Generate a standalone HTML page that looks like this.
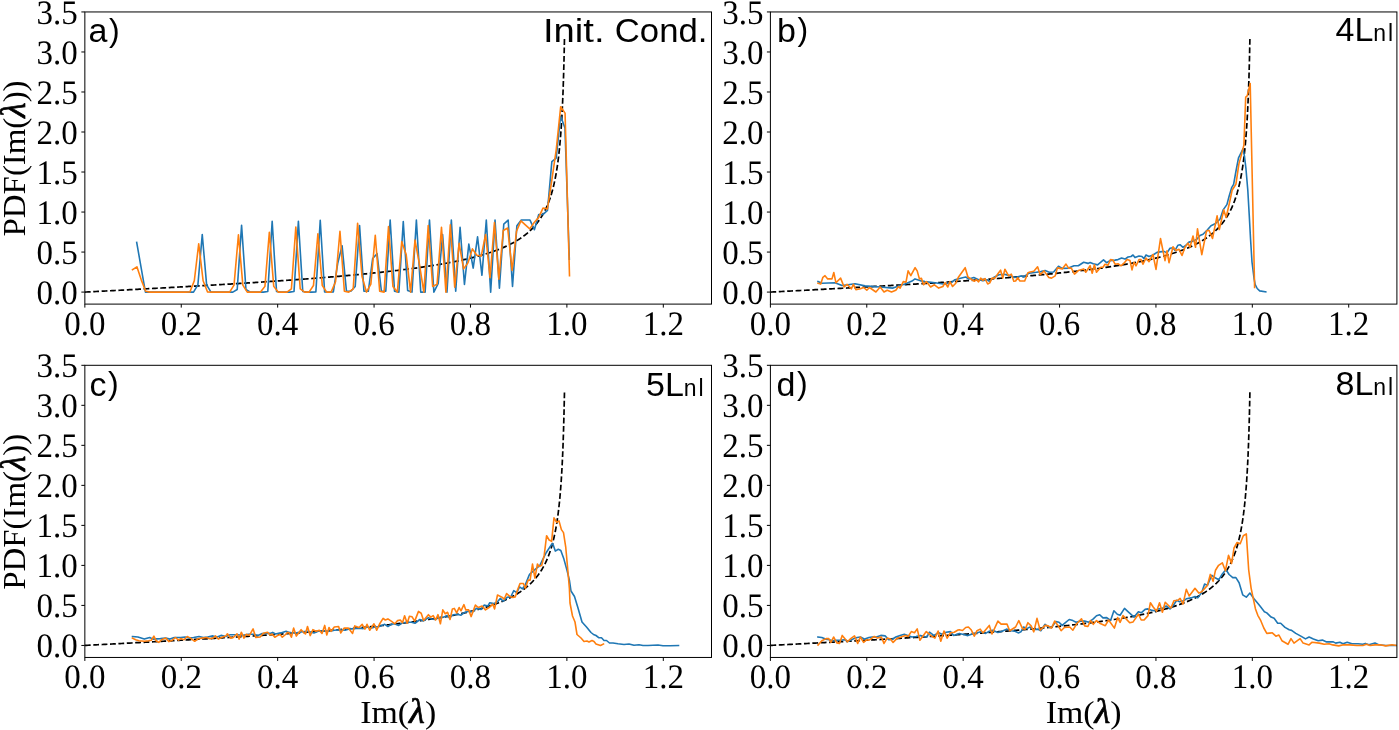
<!DOCTYPE html>
<html><head><meta charset="utf-8"><style>
html,body{margin:0;padding:0;background:#fff;overflow:hidden}
svg{display:block;will-change:transform}
.tk{text-rendering:geometricPrecision;font-family:"Liberation Serif",serif;font-size:33px;fill:#000}
.lab{font-family:"Liberation Serif",serif;font-size:32.5px;fill:#000}
.pl{font-family:"Liberation Sans",sans-serif;font-size:34px;fill:#000}
</style></head><body>
<svg width="1399" height="730" viewBox="0 0 1399 730">
<rect width="1399" height="730" fill="#fff"/>
<clipPath id="clipa"><rect x="84.85" y="11.95" width="626.65" height="292.15"/></clipPath>
<path d="M84.85,292.09 L86.45,292.01 L88.05,291.92 L89.65,291.84 L91.25,291.76 L92.84,291.67 L94.44,291.59 L96.04,291.5 L97.64,291.42 L99.24,291.33 L100.84,291.25 L102.44,291.16 L104.04,291.08 L105.63,290.99 L107.23,290.91 L108.83,290.82 L110.43,290.74 L112.03,290.66 L113.63,290.57 L115.23,290.49 L116.83,290.4 L118.42,290.31 L120.02,290.23 L121.62,290.14 L123.22,290.06 L124.82,289.97 L126.42,289.89 L128.02,289.8 L129.62,289.72 L131.21,289.63 L132.81,289.55 L134.41,289.46 L136.01,289.37 L137.61,289.29 L139.21,289.2 L140.81,289.12 L142.41,289.03 L144,288.94 L145.6,288.86 L147.2,288.77 L148.8,288.68 L150.4,288.6 L152,288.51 L153.6,288.42 L155.2,288.34 L156.79,288.25 L158.39,288.16 L159.99,288.07 L161.59,287.99 L163.19,287.9 L164.79,287.81 L166.39,287.72 L167.99,287.63 L169.58,287.54 L171.18,287.46 L172.78,287.37 L174.38,287.28 L175.98,287.19 L177.58,287.1 L179.18,287.01 L180.78,286.92 L182.37,286.83 L183.97,286.74 L185.57,286.65 L187.17,286.56 L188.77,286.47 L190.37,286.38 L191.97,286.29 L193.57,286.2 L195.16,286.1 L196.76,286.01 L198.36,285.92 L199.96,285.83 L201.56,285.74 L203.16,285.64 L204.76,285.55 L206.36,285.46 L207.95,285.36 L209.55,285.27 L211.15,285.18 L212.75,285.08 L214.35,284.99 L215.95,284.89 L217.55,284.8 L219.15,284.7 L220.74,284.61 L222.34,284.51 L223.94,284.42 L225.54,284.32 L227.14,284.22 L228.74,284.13 L230.34,284.03 L231.94,283.93 L233.53,283.83 L235.13,283.73 L236.73,283.64 L238.33,283.54 L239.93,283.44 L241.53,283.34 L243.13,283.24 L244.73,283.14 L246.32,283.04 L247.92,282.93 L249.52,282.83 L251.12,282.73 L252.72,282.63 L254.32,282.53 L255.92,282.42 L257.52,282.32 L259.11,282.22 L260.71,282.11 L262.31,282.01 L263.91,281.9 L265.51,281.79 L267.11,281.69 L268.71,281.58 L270.31,281.47 L271.91,281.37 L273.5,281.26 L275.1,281.15 L276.7,281.04 L278.3,280.93 L279.9,280.82 L281.5,280.71 L283.1,280.6 L284.7,280.49 L286.29,280.37 L287.89,280.26 L289.49,280.15 L291.09,280.03 L292.69,279.92 L294.29,279.8 L295.89,279.69 L297.49,279.57 L299.08,279.45 L300.68,279.34 L302.28,279.22 L303.88,279.1 L305.48,278.98 L307.08,278.86 L308.68,278.74 L310.28,278.61 L311.87,278.49 L313.47,278.37 L315.07,278.24 L316.67,278.12 L318.27,277.99 L319.87,277.87 L321.47,277.74 L323.07,277.61 L324.66,277.48 L326.26,277.35 L327.86,277.22 L329.46,277.09 L331.06,276.96 L332.66,276.82 L334.26,276.69 L335.86,276.55 L337.45,276.42 L339.05,276.28 L340.65,276.14 L342.25,276 L343.85,275.86 L345.45,275.72 L347.05,275.58 L348.65,275.44 L350.24,275.29 L351.84,275.14 L353.44,275 L355.04,274.85 L356.64,274.7 L358.24,274.55 L359.84,274.4 L361.44,274.24 L363.03,274.09 L364.63,273.93 L366.23,273.78 L367.83,273.62 L369.43,273.46 L371.03,273.3 L372.63,273.13 L374.23,272.97 L375.82,272.8 L377.42,272.64 L379.02,272.47 L380.62,272.3 L382.22,272.12 L383.82,271.95 L385.42,271.77 L387.02,271.6 L388.61,271.42 L390.21,271.23 L391.81,271.05 L393.41,270.87 L395.01,270.68 L396.61,270.49 L398.21,270.3 L399.81,270.1 L401.4,269.91 L403,269.71 L404.6,269.51 L406.2,269.31 L407.8,269.1 L409.4,268.89 L411,268.68 L412.6,268.47 L414.19,268.25 L415.79,268.04 L417.39,267.81 L418.99,267.59 L420.59,267.36 L422.19,267.13 L423.79,266.9 L425.39,266.66 L426.98,266.42 L428.58,266.18 L430.18,265.93 L431.78,265.68 L433.38,265.43 L434.98,265.17 L436.58,264.91 L438.18,264.64 L439.77,264.37 L441.37,264.1 L442.97,263.82 L444.57,263.53 L446.17,263.24 L447.77,262.95 L449.37,262.65 L450.97,262.35 L452.57,262.04 L454.16,261.72 L455.76,261.4 L457.36,261.07 L458.96,260.74 L460.56,260.4 L462.16,260.05 L463.76,259.7 L465.36,259.33 L466.95,258.97 L468.55,258.59 L470.15,258.2 L471.75,257.81 L473.35,257.41 L474.95,257 L476.55,256.57 L478.15,256.14 L479.74,255.7 L481.34,255.25 L482.94,254.78 L484.54,254.3 L486.14,253.81 L487.74,253.31 L489.34,252.79 L490.94,252.26 L492.53,251.71 L494.13,251.15 L495.73,250.56 L497.33,249.96 L498.93,249.34 L500.53,248.7 L502.13,248.04 L503.73,247.36 L505.32,246.65 L506.92,245.91 L508.52,245.15 L510.12,244.35 L511.72,243.53 L513.32,242.67 L514.92,241.77 L516.52,240.83 L518.11,239.85 L518.68,239.49 L519.14,239.19 L519.6,238.9 L519.71,238.82 L520.06,238.59 L520.52,238.29 L520.97,237.98 L521.31,237.74 L521.43,237.66 L521.89,237.34 L522.35,237.02 L522.81,236.69 L522.91,236.61 L523.26,236.35 L523.72,236.01 L524.18,235.67 L524.51,235.42 L524.64,235.32 L525.1,234.96 L525.55,234.6 L526.01,234.23 L526.11,234.16 L526.47,233.86 L526.93,233.48 L527.39,233.1 L527.71,232.82 L527.84,232.71 L528.3,232.31 L528.76,231.9 L529.22,231.49 L529.31,231.41 L529.68,231.07 L530.13,230.64 L530.59,230.21 L530.9,229.91 L531.05,229.77 L531.51,229.32 L531.96,228.86 L532.42,228.39 L532.5,228.3 L532.88,227.91 L533.34,227.42 L533.8,226.93 L534.1,226.59 L534.25,226.42 L534.71,225.9 L535.17,225.38 L535.63,224.84 L535.7,224.75 L536.09,224.29 L536.54,223.73 L537,223.15 L537.3,222.77 L537.46,222.56 L537.92,221.96 L538.38,221.35 L538.83,220.72 L538.9,220.63 L539.29,220.07 L539.75,219.41 L540.21,218.73 L540.5,218.3 L540.67,218.04 L541.12,217.33 L541.58,216.6 L542.04,215.85 L542.1,215.75 L542.5,215.08 L542.96,214.28 L543.41,213.47 L543.69,212.96 L543.87,212.63 L544.33,211.77 L544.79,210.88 L545.24,209.96 L545.29,209.87 L545.7,209.02 L546.16,208.04 L546.62,207.03 L546.89,206.42 L547.08,205.99 L547.53,204.91 L547.99,203.8 L548.45,202.64 L548.49,202.54 L548.91,201.44 L549.37,200.2 L549.82,198.9 L550.09,198.13 L550.28,197.56 L550.74,196.15 L551.2,194.69 L551.66,193.17 L551.69,193.06 L552.11,191.57 L552.57,189.9 L553.03,188.15 L553.29,187.13 L553.49,186.31 L553.95,184.38 L554.4,182.34 L554.86,180.18 L554.89,180.07 L555.32,177.91 L555.78,175.49 L556.24,172.93 L556.48,171.46 L556.69,170.19 L557.15,167.27 L557.61,164.13 L558.07,160.75 L558.08,160.63 L558.53,157.11 L558.98,153.15 L559.44,148.84 L559.68,146.41 L559.9,144.11 L560.36,138.9 L560.81,133.12 L561.27,126.64 L561.28,126.52 L561.73,119.33 L562.19,110.98 L562.65,101.32 L562.88,95.78 L563.1,89.96 L563.56,76.34 L564.02,59.58 L564.48,38.27" fill="none" stroke="#000" stroke-width="1.7" stroke-dasharray="5.8 2.6" clip-path="url(#clipa)"/>
<path d="M136.7,242.47 L141.07,267.28 L145.44,292.09 L149.81,292.09 L154.18,292.09 L158.55,292.09 L162.92,292.09 L167.29,292.09 L171.66,292.09 L176.03,292.09 L180.4,292.09 L184.77,292.09 L189.14,292.09 L193.51,292.09 L197.88,284.87 L202.25,234.5 L206.62,284.87 L210.99,292.09 L215.36,292.09 L219.73,292.09 L224.1,292.09 L228.47,292.09 L232.84,292.09 L237.21,289.47 L241.58,225.3 L245.95,289.47 L250.32,292.09 L254.69,292.09 L259.06,292.09 L263.43,292.09 L267.8,291.47 L272.17,221.31 L276.54,291.47 L280.91,292.09 L285.28,292.09 L289.65,292.09 L294.02,291.47 L298.39,221.31 L302.76,291.47 L307.13,292.09 L311.5,292.09 L315.87,291.92 L320.24,220.42 L324.61,291.91 L328.98,292.09 L333.35,291.91 L337.72,263.28 L342.09,245.67 L346.46,291.29 L350.83,291.29 L355.2,286.49 L359.57,225.66 L363.94,291.29 L368.31,291.29 L372.68,258.48 L377.05,253.67 L381.42,291.29 L385.79,291.29 L390.16,220.06 L394.53,291.29 L398.9,292.09 L403.27,221.66 L407.64,290.49 L412.01,292.09 L416.38,220.06 L420.75,292.09 L425.12,292.09 L429.49,220.06 L433.86,292.09 L438.23,283.29 L442.6,234.46 L446.97,292.09 L451.34,220.06 L455.71,291.29 L460.08,227.26 L464.45,284.49 L468.82,244.07 L473.19,268.08 L477.56,236.87 L481.93,275.29 L486.3,220.06 L490.67,292.09 L495.04,220.06 L499.41,288.09 L503.78,224.06 L508.15,220.06 L512.52,286.49 L516.89,225.66 L521.26,220.06 L525.63,220.06 L530,220.06 L534.37,229.66 L538.74,214.45 L543.11,214.45 L547.48,210.45 L551.85,161.63 L556.22,158.03 L560.59,116 L564.96,128.01 L569.33,259.28" fill="none" stroke="#1f77b4" stroke-width="1.6" stroke-linejoin="round" stroke-linecap="square" clip-path="url(#clipa)"/>
<path d="M132.5,269.68 L136.91,266.8 L141.33,280.09 L145.74,291.29 L150.16,292.09 L154.57,292.09 L158.98,292.09 L163.4,292.09 L167.81,292.09 L172.22,292.09 L176.64,292.09 L181.06,292.09 L185.47,292.09 L189.88,291.99 L194.3,280.73 L198.71,243.81 L203.12,280.73 L207.54,291.99 L211.95,292.09 L216.36,292.09 L220.78,292.09 L225.2,292.09 L229.61,292.09 L234.02,285.07 L238.44,234.9 L242.85,285.07 L247.26,292.09 L251.68,292.09 L256.09,292.09 L260.5,292.09 L264.92,286.37 L269.34,232.3 L273.75,286.37 L278.16,292.09 L282.58,292.09 L286.99,292.09 L291.4,288.97 L295.82,227.1 L300.23,288.97 L304.65,292.09 L309.06,292.09 L313.47,285.57 L317.89,233.9 L322.3,285.57 L326.72,292.09 L331.13,292.09 L335.54,281.69 L339.96,231.26 L344.37,291.29 L348.79,292.09 L353.2,288.89 L357.61,223.26 L362.03,276.49 L366.44,292.09 L370.85,284.09 L375.27,235.26 L379.68,291.29 L384.09,292.09 L388.51,226.46 L392.93,286.49 L397.34,292.09 L401.75,241.67 L406.17,254.47 L410.58,292.09 L414.99,240.07 L419.41,264.08 L423.82,292.09 L428.23,225.66 L432.65,286.49 L437.07,284.09 L441.48,227.26 L445.89,292.09 L450.31,224.86 L454.72,287.29 L459.13,243.27 L463.55,268.88 L467.96,262.88 L472.38,248.87 L476.79,255.27 L481.21,256.08 L485.62,234.46 L490.03,277.69 L494.45,222.46 L498.86,279.29 L503.27,230.46 L507.69,228.06 L512.1,270.48 L516.52,231.26 L520.93,220.86 L525.35,224.86 L529.76,228.86 L534.17,222.46 L538.59,217.66 L543,208.05 L547.41,208.85 L551.83,180.04 L556.24,149.62 L560.66,106.8 L565.07,113.12 L569.49,275.61" fill="none" stroke="#ff7f0e" stroke-width="1.6" stroke-linejoin="round" stroke-linecap="square" clip-path="url(#clipa)"/>
<rect x="84.85" y="11.95" width="626.65" height="292.15" fill="none" stroke="#000" stroke-width="1.0"/>
<line x1="81.35" y1="292.09" x2="84.85" y2="292.09" stroke="#000" stroke-width="1.0"/>
<text transform="translate(77.85,303.99) scale(1.0,1.04)" class="tk" text-anchor="end">0.0</text>
<line x1="81.35" y1="252.07" x2="84.85" y2="252.07" stroke="#000" stroke-width="1.0"/>
<text transform="translate(77.85,263.97) scale(1.0,1.04)" class="tk" text-anchor="end">0.5</text>
<line x1="81.35" y1="212.05" x2="84.85" y2="212.05" stroke="#000" stroke-width="1.0"/>
<text transform="translate(77.85,223.95) scale(1.0,1.04)" class="tk" text-anchor="end">1.0</text>
<line x1="81.35" y1="172.03" x2="84.85" y2="172.03" stroke="#000" stroke-width="1.0"/>
<text transform="translate(77.85,183.93) scale(1.0,1.04)" class="tk" text-anchor="end">1.5</text>
<line x1="81.35" y1="132.01" x2="84.85" y2="132.01" stroke="#000" stroke-width="1.0"/>
<text transform="translate(77.85,143.91) scale(1.0,1.04)" class="tk" text-anchor="end">2.0</text>
<line x1="81.35" y1="91.99" x2="84.85" y2="91.99" stroke="#000" stroke-width="1.0"/>
<text transform="translate(77.85,103.89) scale(1.0,1.04)" class="tk" text-anchor="end">2.5</text>
<line x1="81.35" y1="51.97" x2="84.85" y2="51.97" stroke="#000" stroke-width="1.0"/>
<text transform="translate(77.85,63.87) scale(1.0,1.04)" class="tk" text-anchor="end">3.0</text>
<line x1="81.35" y1="11.95" x2="84.85" y2="11.95" stroke="#000" stroke-width="1.0"/>
<text transform="translate(77.85,23.85) scale(1.0,1.04)" class="tk" text-anchor="end">3.5</text>
<line x1="84.85" y1="304.1" x2="84.85" y2="307.6" stroke="#000" stroke-width="1.0"/>
<text transform="translate(84.85,334.8) scale(1.0,1.04)" class="tk" text-anchor="middle">0.0</text>
<line x1="181.26" y1="304.1" x2="181.26" y2="307.6" stroke="#000" stroke-width="1.0"/>
<text transform="translate(181.26,334.8) scale(1.0,1.04)" class="tk" text-anchor="middle">0.2</text>
<line x1="277.67" y1="304.1" x2="277.67" y2="307.6" stroke="#000" stroke-width="1.0"/>
<text transform="translate(277.67,334.8) scale(1.0,1.04)" class="tk" text-anchor="middle">0.4</text>
<line x1="374.07" y1="304.1" x2="374.07" y2="307.6" stroke="#000" stroke-width="1.0"/>
<text transform="translate(374.07,334.8) scale(1.0,1.04)" class="tk" text-anchor="middle">0.6</text>
<line x1="470.48" y1="304.1" x2="470.48" y2="307.6" stroke="#000" stroke-width="1.0"/>
<text transform="translate(470.48,334.8) scale(1.0,1.04)" class="tk" text-anchor="middle">0.8</text>
<line x1="566.89" y1="304.1" x2="566.89" y2="307.6" stroke="#000" stroke-width="1.0"/>
<text transform="translate(566.89,334.8) scale(1.0,1.04)" class="tk" text-anchor="middle">1.0</text>
<line x1="663.3" y1="304.1" x2="663.3" y2="307.6" stroke="#000" stroke-width="1.0"/>
<text transform="translate(663.3,334.8) scale(1.0,1.04)" class="tk" text-anchor="middle">1.2</text>
<clipPath id="clipb"><rect x="770.4" y="11.95" width="626.5" height="292.15"/></clipPath>
<path d="M770.4,292.09 L772,292.01 L773.6,291.92 L775.2,291.84 L776.79,291.76 L778.39,291.67 L779.99,291.59 L781.59,291.5 L783.19,291.42 L784.79,291.33 L786.38,291.25 L787.98,291.16 L789.58,291.08 L791.18,290.99 L792.78,290.91 L794.38,290.82 L795.97,290.74 L797.57,290.66 L799.17,290.57 L800.77,290.49 L802.37,290.4 L803.97,290.31 L805.56,290.23 L807.16,290.14 L808.76,290.06 L810.36,289.97 L811.96,289.89 L813.56,289.8 L815.15,289.72 L816.75,289.63 L818.35,289.55 L819.95,289.46 L821.55,289.37 L823.15,289.29 L824.74,289.2 L826.34,289.12 L827.94,289.03 L829.54,288.94 L831.14,288.86 L832.74,288.77 L834.34,288.68 L835.93,288.6 L837.53,288.51 L839.13,288.42 L840.73,288.34 L842.33,288.25 L843.93,288.16 L845.52,288.07 L847.12,287.99 L848.72,287.9 L850.32,287.81 L851.92,287.72 L853.52,287.63 L855.11,287.54 L856.71,287.46 L858.31,287.37 L859.91,287.28 L861.51,287.19 L863.11,287.1 L864.7,287.01 L866.3,286.92 L867.9,286.83 L869.5,286.74 L871.1,286.65 L872.7,286.56 L874.29,286.47 L875.89,286.38 L877.49,286.29 L879.09,286.2 L880.69,286.1 L882.29,286.01 L883.88,285.92 L885.48,285.83 L887.08,285.74 L888.68,285.64 L890.28,285.55 L891.88,285.46 L893.48,285.36 L895.07,285.27 L896.67,285.18 L898.27,285.08 L899.87,284.99 L901.47,284.89 L903.07,284.8 L904.66,284.7 L906.26,284.61 L907.86,284.51 L909.46,284.42 L911.06,284.32 L912.66,284.22 L914.25,284.13 L915.85,284.03 L917.45,283.93 L919.05,283.83 L920.65,283.73 L922.25,283.64 L923.84,283.54 L925.44,283.44 L927.04,283.34 L928.64,283.24 L930.24,283.14 L931.84,283.04 L933.43,282.93 L935.03,282.83 L936.63,282.73 L938.23,282.63 L939.83,282.53 L941.43,282.42 L943.02,282.32 L944.62,282.22 L946.22,282.11 L947.82,282.01 L949.42,281.9 L951.02,281.79 L952.62,281.69 L954.21,281.58 L955.81,281.47 L957.41,281.37 L959.01,281.26 L960.61,281.15 L962.21,281.04 L963.8,280.93 L965.4,280.82 L967,280.71 L968.6,280.6 L970.2,280.49 L971.8,280.37 L973.39,280.26 L974.99,280.15 L976.59,280.03 L978.19,279.92 L979.79,279.8 L981.39,279.69 L982.98,279.57 L984.58,279.45 L986.18,279.34 L987.78,279.22 L989.38,279.1 L990.98,278.98 L992.57,278.86 L994.17,278.74 L995.77,278.61 L997.37,278.49 L998.97,278.37 L1000.57,278.24 L1002.16,278.12 L1003.76,277.99 L1005.36,277.87 L1006.96,277.74 L1008.56,277.61 L1010.16,277.48 L1011.76,277.35 L1013.35,277.22 L1014.95,277.09 L1016.55,276.96 L1018.15,276.82 L1019.75,276.69 L1021.35,276.55 L1022.94,276.42 L1024.54,276.28 L1026.14,276.14 L1027.74,276 L1029.34,275.86 L1030.94,275.72 L1032.53,275.58 L1034.13,275.44 L1035.73,275.29 L1037.33,275.14 L1038.93,275 L1040.53,274.85 L1042.12,274.7 L1043.72,274.55 L1045.32,274.4 L1046.92,274.24 L1048.52,274.09 L1050.12,273.93 L1051.71,273.78 L1053.31,273.62 L1054.91,273.46 L1056.51,273.3 L1058.11,273.13 L1059.71,272.97 L1061.3,272.8 L1062.9,272.64 L1064.5,272.47 L1066.1,272.3 L1067.7,272.12 L1069.3,271.95 L1070.9,271.77 L1072.49,271.6 L1074.09,271.42 L1075.69,271.23 L1077.29,271.05 L1078.89,270.87 L1080.49,270.68 L1082.08,270.49 L1083.68,270.3 L1085.28,270.1 L1086.88,269.91 L1088.48,269.71 L1090.08,269.51 L1091.67,269.31 L1093.27,269.1 L1094.87,268.89 L1096.47,268.68 L1098.07,268.47 L1099.67,268.25 L1101.26,268.04 L1102.86,267.81 L1104.46,267.59 L1106.06,267.36 L1107.66,267.13 L1109.26,266.9 L1110.85,266.66 L1112.45,266.42 L1114.05,266.18 L1115.65,265.93 L1117.25,265.68 L1118.85,265.43 L1120.44,265.17 L1122.04,264.91 L1123.64,264.64 L1125.24,264.37 L1126.84,264.1 L1128.44,263.82 L1130.04,263.53 L1131.63,263.24 L1133.23,262.95 L1134.83,262.65 L1136.43,262.35 L1138.03,262.04 L1139.63,261.72 L1141.22,261.4 L1142.82,261.07 L1144.42,260.74 L1146.02,260.4 L1147.62,260.05 L1149.22,259.7 L1150.81,259.33 L1152.41,258.97 L1154.01,258.59 L1155.61,258.2 L1157.21,257.81 L1158.81,257.41 L1160.4,257 L1162,256.57 L1163.6,256.14 L1165.2,255.7 L1166.8,255.25 L1168.4,254.78 L1169.99,254.3 L1171.59,253.81 L1173.19,253.31 L1174.79,252.79 L1176.39,252.26 L1177.99,251.71 L1179.58,251.15 L1181.18,250.56 L1182.78,249.96 L1184.38,249.34 L1185.98,248.7 L1187.58,248.04 L1189.18,247.36 L1190.77,246.65 L1192.37,245.91 L1193.97,245.15 L1195.57,244.35 L1197.17,243.53 L1198.77,242.67 L1200.36,241.77 L1201.96,240.83 L1203.56,239.85 L1204.13,239.49 L1204.59,239.19 L1205.05,238.9 L1205.16,238.82 L1205.5,238.59 L1205.96,238.29 L1206.42,237.98 L1206.76,237.74 L1206.88,237.66 L1207.34,237.34 L1207.79,237.02 L1208.25,236.69 L1208.36,236.61 L1208.71,236.35 L1209.17,236.01 L1209.62,235.67 L1209.95,235.42 L1210.08,235.32 L1210.54,234.96 L1211,234.6 L1211.46,234.23 L1211.55,234.16 L1211.91,233.86 L1212.37,233.48 L1212.83,233.1 L1213.15,232.82 L1213.29,232.71 L1213.75,232.31 L1214.2,231.9 L1214.66,231.49 L1214.75,231.41 L1215.12,231.07 L1215.58,230.64 L1216.03,230.21 L1216.35,229.91 L1216.49,229.77 L1216.95,229.32 L1217.41,228.86 L1217.87,228.39 L1217.95,228.3 L1218.32,227.91 L1218.78,227.42 L1219.24,226.93 L1219.54,226.59 L1219.7,226.42 L1220.15,225.9 L1220.61,225.38 L1221.07,224.84 L1221.14,224.75 L1221.53,224.29 L1221.99,223.73 L1222.44,223.15 L1222.74,222.77 L1222.9,222.56 L1223.36,221.96 L1223.82,221.35 L1224.28,220.72 L1224.34,220.63 L1224.73,220.07 L1225.19,219.41 L1225.65,218.73 L1225.94,218.3 L1226.11,218.04 L1226.56,217.33 L1227.02,216.6 L1227.48,215.85 L1227.54,215.75 L1227.94,215.08 L1228.4,214.28 L1228.85,213.47 L1229.13,212.96 L1229.31,212.63 L1229.77,211.77 L1230.23,210.88 L1230.68,209.96 L1230.73,209.87 L1231.14,209.02 L1231.6,208.04 L1232.06,207.03 L1232.33,206.42 L1232.52,205.99 L1232.97,204.91 L1233.43,203.8 L1233.89,202.64 L1233.93,202.54 L1234.35,201.44 L1234.81,200.2 L1235.26,198.9 L1235.53,198.13 L1235.72,197.56 L1236.18,196.15 L1236.64,194.69 L1237.09,193.17 L1237.13,193.06 L1237.55,191.57 L1238.01,189.9 L1238.47,188.15 L1238.72,187.13 L1238.93,186.31 L1239.38,184.38 L1239.84,182.34 L1240.3,180.18 L1240.32,180.07 L1240.76,177.91 L1241.21,175.49 L1241.67,172.93 L1241.92,171.46 L1242.13,170.19 L1242.59,167.27 L1243.05,164.13 L1243.5,160.75 L1243.52,160.63 L1243.96,157.11 L1244.42,153.15 L1244.88,148.84 L1245.12,146.41 L1245.34,144.11 L1245.79,138.9 L1246.25,133.12 L1246.71,126.64 L1246.72,126.52 L1247.17,119.33 L1247.62,110.98 L1248.08,101.32 L1248.32,95.78 L1248.54,89.96 L1249,76.34 L1249.46,59.58 L1249.91,38.27" fill="none" stroke="#000" stroke-width="1.7" stroke-dasharray="5.8 2.6" clip-path="url(#clipb)"/>
<path d="M818,281.6 L822,283.2 L835,282.7 L842,285.5 L848,284.8 L855,283.7 L865,285.9 L880,287 L893,288.1 L900,285.4 L905,284.1 L912,281.1 L915,278.9 L920,280.6 L925,281.6 L935,282.7 L945,284.3 L952,282 L955,279.7 L962.5,277.7 L965.7,277 L968.9,279.1 L973.8,277.5 L978.6,279.7 L982.9,280.7 L987.2,279.7 L989.3,281.3 L993.6,277.5 L999,274.8 L1004.3,274.3 L1008.6,275.4 L1015,277.5 L1021.5,275.9 L1023.6,277 L1029,273.2 L1036.5,272.2 L1040.8,271.6 L1045.1,270.6 L1049.3,272.2 L1053.6,272 L1058.5,266.3 L1062.2,268.4 L1068.6,268.1 L1074,265.7 L1078.3,265.7 L1083.7,262.3 L1088,263.4 L1090.1,262.5 L1093.3,263.8 L1097.6,264.9 L1103.5,259.8 L1106.6,262.7 L1110,260.6 L1115,260.1 L1118,259.6 L1121.6,258.1 L1125,259.1 L1128,257 L1131,256.5 L1133,255 L1135,257.6 L1139,256 L1142,256.5 L1144,258.6 L1146,255 L1149,256.5 L1153,255 L1157,252.4 L1160,251.9 L1164,251.4 L1167,252.9 L1170,248.3 L1173,247.8 L1175,250.4 L1178,245.2 L1180,244.7 L1183,247.3 L1186,245.2 L1189,242.1 L1193,241.1 L1197,239.1 L1200,235.5 L1203,234.3 L1207,230.2 L1211,225.7 L1215.6,223.5 L1220.1,219 L1223.1,209.9 L1226.9,204.6 L1229.1,196.3 L1231.8,187.3 L1233.6,184.3 L1235.9,171.5 L1238.5,157.9 L1240.4,154.1 L1243,148.8 L1244.5,156.4 L1246,169.2 L1247.8,190.3 L1249.2,214.4 L1250.6,240 L1252,262 L1254,278 L1255.1,284.4 L1257.2,288.5 L1259.7,290.9 L1265.8,291.9" fill="none" stroke="#1f77b4" stroke-width="1.6" stroke-linejoin="round" stroke-linecap="square" clip-path="url(#clipb)"/>
<path d="M818,283.2 L820.7,284.1 L822.9,277.3 L825,275.7 L827.7,278.9 L832,278.9 L833.8,272.5 L835.9,282.7 L840.6,278.1 L844.1,287 L847,284.3 L851.3,288.8 L853.4,284.3 L855.9,289.7 L860.4,288.8 L863.6,287.5 L866.8,290.2 L869.5,287.5 L875.9,292 L880.2,287 L884,292 L887.2,290.2 L891.5,292 L895.8,290.2 L898.5,286.5 L900.1,288.1 L903.3,281.6 L906,282.2 L908.1,270.9 L910.8,275.7 L915.1,267.7 L917.2,270.9 L919.4,278.9 L921.5,278.4 L923.6,284.8 L926.3,281.6 L930.6,287 L934.4,284.8 L938.7,288.1 L942.9,286.5 L945.1,282.7 L947.8,287 L949.9,281.6 L952.6,286.5 L955.8,283.2 L958.2,277.5 L965.2,267.7 L967.9,277 L971.1,279.1 L974.3,281.3 L976.4,279.7 L978.6,281.8 L980.7,278.1 L982.9,280.5 L985,278.6 L987.7,284 L989.8,282.9 L992,278.1 L994.7,278.4 L997.9,273.8 L1000.6,270.2 L1002.7,278.1 L1004.9,269.2 L1008.6,275.9 L1011.3,274.1 L1013.8,281.3 L1015.6,281 L1017.7,277.7 L1019.9,281 L1024.7,281 L1027.9,272.7 L1030.1,272 L1033.8,271.3 L1037.6,266.8 L1040.2,274.8 L1044,270.9 L1048.8,277.5 L1051.5,278.1 L1055.2,275.9 L1057.4,267.9 L1062.2,268.9 L1066,264.1 L1068.6,268.1 L1071.3,268.1 L1074.5,274.1 L1078.3,270.6 L1083.7,268.9 L1085.8,272.2 L1090.1,265.7 L1092.2,273.2 L1094.4,264.7 L1096.5,272.2 L1100.8,267.3 L1103,267.3 L1105,264.2 L1108,265.3 L1110.5,259.6 L1113,260.1 L1115,264.2 L1118,263.7 L1121,265.8 L1124,263.2 L1127,259.6 L1130,260.6 L1132,269.9 L1134,262.2 L1136,265.8 L1139,259.6 L1141,259.6 L1143,264.2 L1146,258.1 L1149,261.7 L1153,254.5 L1156,269.4 L1160.5,238.5 L1165,260.6 L1167,250.9 L1169,262.7 L1173,246.8 L1176,250.4 L1179,249.3 L1182,255.5 L1185,247.3 L1188,243.2 L1190,247.3 L1193,236 L1195.5,247.3 L1197.5,228.8 L1201.8,254.7 L1206.5,231 L1209,230.3 L1212.5,238.5 L1217.1,215.9 L1219.3,229.5 L1223.8,209.9 L1226.1,217.4 L1229,205 L1232.1,190.3 L1235.9,184.3 L1238.9,163.9 L1241.2,155.6 L1243.9,145.1 L1245.7,97.1 L1247.2,95.9 L1250.2,83.5 L1254.6,287.5" fill="none" stroke="#ff7f0e" stroke-width="1.6" stroke-linejoin="round" stroke-linecap="square" clip-path="url(#clipb)"/>
<rect x="770.4" y="11.95" width="626.5" height="292.15" fill="none" stroke="#000" stroke-width="1.0"/>
<line x1="766.9" y1="292.09" x2="770.4" y2="292.09" stroke="#000" stroke-width="1.0"/>
<text transform="translate(763.4,303.99) scale(1.0,1.04)" class="tk" text-anchor="end">0.0</text>
<line x1="766.9" y1="252.07" x2="770.4" y2="252.07" stroke="#000" stroke-width="1.0"/>
<text transform="translate(763.4,263.97) scale(1.0,1.04)" class="tk" text-anchor="end">0.5</text>
<line x1="766.9" y1="212.05" x2="770.4" y2="212.05" stroke="#000" stroke-width="1.0"/>
<text transform="translate(763.4,223.95) scale(1.0,1.04)" class="tk" text-anchor="end">1.0</text>
<line x1="766.9" y1="172.03" x2="770.4" y2="172.03" stroke="#000" stroke-width="1.0"/>
<text transform="translate(763.4,183.93) scale(1.0,1.04)" class="tk" text-anchor="end">1.5</text>
<line x1="766.9" y1="132.01" x2="770.4" y2="132.01" stroke="#000" stroke-width="1.0"/>
<text transform="translate(763.4,143.91) scale(1.0,1.04)" class="tk" text-anchor="end">2.0</text>
<line x1="766.9" y1="91.99" x2="770.4" y2="91.99" stroke="#000" stroke-width="1.0"/>
<text transform="translate(763.4,103.89) scale(1.0,1.04)" class="tk" text-anchor="end">2.5</text>
<line x1="766.9" y1="51.97" x2="770.4" y2="51.97" stroke="#000" stroke-width="1.0"/>
<text transform="translate(763.4,63.87) scale(1.0,1.04)" class="tk" text-anchor="end">3.0</text>
<line x1="766.9" y1="11.95" x2="770.4" y2="11.95" stroke="#000" stroke-width="1.0"/>
<text transform="translate(763.4,23.85) scale(1.0,1.04)" class="tk" text-anchor="end">3.5</text>
<line x1="770.4" y1="304.1" x2="770.4" y2="307.6" stroke="#000" stroke-width="1.0"/>
<text transform="translate(770.4,334.8) scale(1.0,1.04)" class="tk" text-anchor="middle">0.0</text>
<line x1="866.78" y1="304.1" x2="866.78" y2="307.6" stroke="#000" stroke-width="1.0"/>
<text transform="translate(866.78,334.8) scale(1.0,1.04)" class="tk" text-anchor="middle">0.2</text>
<line x1="963.17" y1="304.1" x2="963.17" y2="307.6" stroke="#000" stroke-width="1.0"/>
<text transform="translate(963.17,334.8) scale(1.0,1.04)" class="tk" text-anchor="middle">0.4</text>
<line x1="1059.55" y1="304.1" x2="1059.55" y2="307.6" stroke="#000" stroke-width="1.0"/>
<text transform="translate(1059.55,334.8) scale(1.0,1.04)" class="tk" text-anchor="middle">0.6</text>
<line x1="1155.94" y1="304.1" x2="1155.94" y2="307.6" stroke="#000" stroke-width="1.0"/>
<text transform="translate(1155.94,334.8) scale(1.0,1.04)" class="tk" text-anchor="middle">0.8</text>
<line x1="1252.32" y1="304.1" x2="1252.32" y2="307.6" stroke="#000" stroke-width="1.0"/>
<text transform="translate(1252.32,334.8) scale(1.0,1.04)" class="tk" text-anchor="middle">1.0</text>
<line x1="1348.71" y1="304.1" x2="1348.71" y2="307.6" stroke="#000" stroke-width="1.0"/>
<text transform="translate(1348.71,334.8) scale(1.0,1.04)" class="tk" text-anchor="middle">1.2</text>
<clipPath id="clipc"><rect x="84.85" y="365.3" width="626.65" height="292.15"/></clipPath>
<path d="M84.85,645.44 L86.45,645.36 L88.05,645.27 L89.65,645.19 L91.25,645.11 L92.84,645.02 L94.44,644.94 L96.04,644.85 L97.64,644.77 L99.24,644.68 L100.84,644.6 L102.44,644.51 L104.04,644.43 L105.63,644.34 L107.23,644.26 L108.83,644.17 L110.43,644.09 L112.03,644.01 L113.63,643.92 L115.23,643.84 L116.83,643.75 L118.42,643.66 L120.02,643.58 L121.62,643.49 L123.22,643.41 L124.82,643.32 L126.42,643.24 L128.02,643.15 L129.62,643.07 L131.21,642.98 L132.81,642.9 L134.41,642.81 L136.01,642.72 L137.61,642.64 L139.21,642.55 L140.81,642.47 L142.41,642.38 L144,642.29 L145.6,642.21 L147.2,642.12 L148.8,642.03 L150.4,641.95 L152,641.86 L153.6,641.77 L155.2,641.69 L156.79,641.6 L158.39,641.51 L159.99,641.42 L161.59,641.34 L163.19,641.25 L164.79,641.16 L166.39,641.07 L167.99,640.98 L169.58,640.89 L171.18,640.81 L172.78,640.72 L174.38,640.63 L175.98,640.54 L177.58,640.45 L179.18,640.36 L180.78,640.27 L182.37,640.18 L183.97,640.09 L185.57,640 L187.17,639.91 L188.77,639.82 L190.37,639.73 L191.97,639.64 L193.57,639.55 L195.16,639.45 L196.76,639.36 L198.36,639.27 L199.96,639.18 L201.56,639.09 L203.16,638.99 L204.76,638.9 L206.36,638.81 L207.95,638.71 L209.55,638.62 L211.15,638.53 L212.75,638.43 L214.35,638.34 L215.95,638.24 L217.55,638.15 L219.15,638.05 L220.74,637.96 L222.34,637.86 L223.94,637.77 L225.54,637.67 L227.14,637.57 L228.74,637.48 L230.34,637.38 L231.94,637.28 L233.53,637.18 L235.13,637.08 L236.73,636.99 L238.33,636.89 L239.93,636.79 L241.53,636.69 L243.13,636.59 L244.73,636.49 L246.32,636.39 L247.92,636.28 L249.52,636.18 L251.12,636.08 L252.72,635.98 L254.32,635.88 L255.92,635.77 L257.52,635.67 L259.11,635.57 L260.71,635.46 L262.31,635.36 L263.91,635.25 L265.51,635.14 L267.11,635.04 L268.71,634.93 L270.31,634.82 L271.91,634.72 L273.5,634.61 L275.1,634.5 L276.7,634.39 L278.3,634.28 L279.9,634.17 L281.5,634.06 L283.1,633.95 L284.7,633.84 L286.29,633.72 L287.89,633.61 L289.49,633.5 L291.09,633.38 L292.69,633.27 L294.29,633.15 L295.89,633.04 L297.49,632.92 L299.08,632.8 L300.68,632.69 L302.28,632.57 L303.88,632.45 L305.48,632.33 L307.08,632.21 L308.68,632.09 L310.28,631.96 L311.87,631.84 L313.47,631.72 L315.07,631.59 L316.67,631.47 L318.27,631.34 L319.87,631.22 L321.47,631.09 L323.07,630.96 L324.66,630.83 L326.26,630.7 L327.86,630.57 L329.46,630.44 L331.06,630.31 L332.66,630.17 L334.26,630.04 L335.86,629.9 L337.45,629.77 L339.05,629.63 L340.65,629.49 L342.25,629.35 L343.85,629.21 L345.45,629.07 L347.05,628.93 L348.65,628.79 L350.24,628.64 L351.84,628.49 L353.44,628.35 L355.04,628.2 L356.64,628.05 L358.24,627.9 L359.84,627.75 L361.44,627.59 L363.03,627.44 L364.63,627.28 L366.23,627.13 L367.83,626.97 L369.43,626.81 L371.03,626.65 L372.63,626.48 L374.23,626.32 L375.82,626.15 L377.42,625.99 L379.02,625.82 L380.62,625.65 L382.22,625.47 L383.82,625.3 L385.42,625.12 L387.02,624.95 L388.61,624.77 L390.21,624.58 L391.81,624.4 L393.41,624.22 L395.01,624.03 L396.61,623.84 L398.21,623.65 L399.81,623.45 L401.4,623.26 L403,623.06 L404.6,622.86 L406.2,622.66 L407.8,622.45 L409.4,622.24 L411,622.03 L412.6,621.82 L414.19,621.6 L415.79,621.39 L417.39,621.16 L418.99,620.94 L420.59,620.71 L422.19,620.48 L423.79,620.25 L425.39,620.01 L426.98,619.77 L428.58,619.53 L430.18,619.28 L431.78,619.03 L433.38,618.78 L434.98,618.52 L436.58,618.26 L438.18,617.99 L439.77,617.72 L441.37,617.45 L442.97,617.17 L444.57,616.88 L446.17,616.59 L447.77,616.3 L449.37,616 L450.97,615.7 L452.57,615.39 L454.16,615.07 L455.76,614.75 L457.36,614.42 L458.96,614.09 L460.56,613.75 L462.16,613.4 L463.76,613.05 L465.36,612.68 L466.95,612.32 L468.55,611.94 L470.15,611.55 L471.75,611.16 L473.35,610.76 L474.95,610.35 L476.55,609.92 L478.15,609.49 L479.74,609.05 L481.34,608.6 L482.94,608.13 L484.54,607.65 L486.14,607.16 L487.74,606.66 L489.34,606.14 L490.94,605.61 L492.53,605.06 L494.13,604.5 L495.73,603.91 L497.33,603.31 L498.93,602.69 L500.53,602.05 L502.13,601.39 L503.73,600.71 L505.32,600 L506.92,599.26 L508.52,598.5 L510.12,597.7 L511.72,596.88 L513.32,596.02 L514.92,595.12 L516.52,594.18 L518.11,593.2 L518.68,592.84 L519.14,592.54 L519.6,592.25 L519.71,592.17 L520.06,591.94 L520.52,591.64 L520.97,591.33 L521.31,591.09 L521.43,591.01 L521.89,590.69 L522.35,590.37 L522.81,590.04 L522.91,589.96 L523.26,589.7 L523.72,589.36 L524.18,589.02 L524.51,588.77 L524.64,588.67 L525.1,588.31 L525.55,587.95 L526.01,587.58 L526.11,587.51 L526.47,587.21 L526.93,586.83 L527.39,586.45 L527.71,586.17 L527.84,586.06 L528.3,585.66 L528.76,585.25 L529.22,584.84 L529.31,584.76 L529.68,584.42 L530.13,583.99 L530.59,583.56 L530.9,583.26 L531.05,583.12 L531.51,582.67 L531.96,582.21 L532.42,581.74 L532.5,581.65 L532.88,581.26 L533.34,580.77 L533.8,580.28 L534.1,579.94 L534.25,579.77 L534.71,579.25 L535.17,578.73 L535.63,578.19 L535.7,578.1 L536.09,577.64 L536.54,577.08 L537,576.5 L537.3,576.12 L537.46,575.91 L537.92,575.31 L538.38,574.7 L538.83,574.07 L538.9,573.98 L539.29,573.42 L539.75,572.76 L540.21,572.08 L540.5,571.65 L540.67,571.39 L541.12,570.68 L541.58,569.95 L542.04,569.2 L542.1,569.1 L542.5,568.43 L542.96,567.63 L543.41,566.82 L543.69,566.31 L543.87,565.98 L544.33,565.12 L544.79,564.23 L545.24,563.31 L545.29,563.22 L545.7,562.37 L546.16,561.39 L546.62,560.38 L546.89,559.77 L547.08,559.34 L547.53,558.26 L547.99,557.15 L548.45,555.99 L548.49,555.89 L548.91,554.79 L549.37,553.55 L549.82,552.25 L550.09,551.48 L550.28,550.91 L550.74,549.5 L551.2,548.04 L551.66,546.52 L551.69,546.41 L552.11,544.92 L552.57,543.25 L553.03,541.5 L553.29,540.48 L553.49,539.66 L553.95,537.73 L554.4,535.69 L554.86,533.53 L554.89,533.42 L555.32,531.26 L555.78,528.84 L556.24,526.28 L556.48,524.81 L556.69,523.54 L557.15,520.62 L557.61,517.48 L558.07,514.1 L558.08,513.98 L558.53,510.46 L558.98,506.5 L559.44,502.19 L559.68,499.76 L559.9,497.46 L560.36,492.25 L560.81,486.47 L561.27,479.99 L561.28,479.87 L561.73,472.68 L562.19,464.33 L562.65,454.67 L562.88,449.13 L563.1,443.31 L563.56,429.69 L564.02,412.93 L564.48,391.62" fill="none" stroke="#000" stroke-width="1.7" stroke-dasharray="5.8 2.6" clip-path="url(#clipc)"/>
<path d="M132.5,636.5 L137.9,637 L144.3,639.1 L149.7,637.5 L152.9,639.1 L160.4,638.6 L165.7,638.1 L170,639.1 L174.3,637.5 L180.8,637.5 L185,637 L189.3,638.1 L193.6,637.5 L199,636.5 L203.3,637.5 L207.6,637 L212.9,635.9 L217.2,637 L221,635.4 L225.8,636.5 L230.1,634.8 L237.6,634.8 L242.9,635.4 L248.3,634.3 L253.7,634.3 L258,635.4 L262.2,633.5 L267.6,633.2 L270,633.4 L272.7,632.4 L275.4,634 L280.7,632.9 L286.1,631.3 L289.3,632.4 L291.4,632.9 L296.8,632.9 L302.2,631.8 L307.5,631.3 L314,632.9 L318.2,631.3 L323.6,630.7 L330,631.3 L334.3,630.2 L339.7,629.7 L345.1,630.2 L349.3,629.1 L353.6,628.6 L359,628.1 L363.3,628.6 L367.6,627 L370.8,628.1 L375.1,627 L379.4,626.5 L384.7,624.3 L387.9,626.5 L391.2,624.3 L394.4,623.8 L398.7,625.4 L402.9,622.7 L408.3,622.2 L411.5,622.2 L415,623.3 L419.8,619.5 L423.6,620.9 L428.4,617.6 L431.3,619 L435.1,619.5 L439,617.6 L443.8,617.1 L446.7,615.6 L449.5,618 L453.4,614.7 L457.2,614.2 L461,615.2 L463.9,612.8 L468.7,611.3 L472.6,611.8 L476.4,608.4 L481.2,609.4 L484.1,605.1 L487.9,606 L489.8,602.7 L493.7,603.6 L497.5,601.7 L500.4,598.4 L503.2,601.2 L507.1,597.4 L510.9,596.5 L513.8,590.7 L516.7,592.6 L519.6,586.9 L522.4,588.8 L525.3,584.9 L529.1,575.3 L530,573.9 L534.9,569.6 L539.9,565.3 L542.3,560.4 L546,553 L551.6,544.4 L552.8,543.7 L555.3,551.1 L558.3,549.3 L560.8,550.5 L563.9,559.1 L567,570.2 L569.4,580.1 L571,591 L574.5,596.5 L578,608 L582,622 L586.5,627 L591,632.5 L593.5,634.5 L596,635.5 L599,637.8 L601.5,637.8 L604,640.5 L606.5,640.5 L609.5,643 L613,643 L618,643.8 L624,644.5 L629,644 L634,645.2 L639,644.8 L643,645.5 L648,645.5 L653,645.2 L658,645 L663,645.7 L670,645.7 L678.5,645.5" fill="none" stroke="#1f77b4" stroke-width="1.6" stroke-linejoin="round" stroke-linecap="square" clip-path="url(#clipc)"/>
<path d="M132.5,638.1 L135.7,639.7 L138.9,640.7 L144.3,641.3 L148.6,640.7 L151.3,640.2 L153.9,636.2 L156.1,640.7 L158.8,642.4 L161.5,639.7 L165.7,638.1 L169,641.6 L172.2,640.2 L175.4,637.5 L178.6,640.2 L180.8,638.6 L184,639.7 L187.2,636.5 L190.4,638.1 L194.7,641.3 L197.9,638.8 L202.2,638.1 L206.5,637.5 L209.7,638.8 L212.9,638.1 L215.6,635.9 L218.3,639.1 L221.5,637.5 L225.8,635.9 L227.4,633.8 L230.6,638.1 L233.3,637.5 L237,633.8 L239.2,639.1 L241.3,632.2 L244,638.1 L246.1,634.3 L249.4,635.4 L253.1,628.9 L255.8,637.5 L260.1,637 L263.3,633.2 L267.6,632.2 L270,635 L272.1,634 L274.8,637.2 L277.5,635.6 L280.2,634.5 L282.3,637.2 L285,635 L287.7,632.4 L289.3,632.9 L291.4,637.2 L293.6,628.1 L296.3,636.1 L301.1,629.7 L305.4,634 L307.5,626.5 L310.2,635.6 L312.9,629.7 L316.1,631.3 L319.3,630.2 L322,633.4 L324.7,625.4 L326.8,635 L329,627.5 L331.1,631.3 L334.3,627 L338.6,626.5 L340.8,632.9 L344,628.1 L348.3,628.1 L352.6,633.4 L354.7,625.9 L359,627.5 L362.2,624.3 L364.9,629.1 L367,624.3 L369.7,630.2 L374,623.8 L376.7,630.2 L379.4,624.3 L383.1,618.4 L385.3,620 L387.9,618.9 L391.2,621.1 L394.9,623.8 L397.6,620.6 L400.3,620 L402.5,622.7 L404.6,615.7 L407.2,623.2 L409.4,616.3 L412.1,616.8 L414.7,621.1 L418.5,611.4 L418.8,611.8 L421.2,613.2 L423.6,620.4 L428.4,614.7 L430.8,617.1 L433.2,615.6 L435.6,620 L438,614.7 L440.4,623.8 L442.8,609.9 L445.2,613.7 L447.6,612.3 L450,619.5 L452.4,608.9 L454.3,608.4 L456.7,612.8 L459.1,607.5 L461,610.8 L463.9,604.6 L465.8,609.9 L468.7,609.9 L471.1,616.6 L475.4,605.1 L478.3,607.5 L482.1,606 L485.5,609.9 L489.8,607 L492.7,604.1 L494.6,608.9 L497.5,595 L502.3,597.4 L504.2,599.3 L506.6,593.6 L510,596.5 L512.8,597.4 L515.2,596.9 L517.6,589.7 L520,583.5 L523.4,583.5 L525.3,588.3 L528.2,580.1 L530.1,580.1 L532.5,564.1 L534.9,578.2 L537.4,564.1 L539.2,566.5 L541.7,565.3 L544.2,555.4 L546.6,535.7 L549.1,540 L551.6,541.3 L554,517.9 L556.5,522.2 L559,520.9 L561.4,529.6 L563.5,532.6 L565.7,546.8 L567.6,567.8 L569.4,588.7 L570,603 L572.5,616 L575,622 L577,634.5 L581,638 L584,641.5 L587,641 L589,642 L592,640.5 L594,641.5 L596,644 L600.5,645.5 L603.5,644" fill="none" stroke="#ff7f0e" stroke-width="1.6" stroke-linejoin="round" stroke-linecap="square" clip-path="url(#clipc)"/>
<rect x="84.85" y="365.3" width="626.65" height="292.15" fill="none" stroke="#000" stroke-width="1.0"/>
<line x1="81.35" y1="645.44" x2="84.85" y2="645.44" stroke="#000" stroke-width="1.0"/>
<text transform="translate(77.85,657.34) scale(1.0,1.04)" class="tk" text-anchor="end">0.0</text>
<line x1="81.35" y1="605.42" x2="84.85" y2="605.42" stroke="#000" stroke-width="1.0"/>
<text transform="translate(77.85,617.32) scale(1.0,1.04)" class="tk" text-anchor="end">0.5</text>
<line x1="81.35" y1="565.4" x2="84.85" y2="565.4" stroke="#000" stroke-width="1.0"/>
<text transform="translate(77.85,577.3) scale(1.0,1.04)" class="tk" text-anchor="end">1.0</text>
<line x1="81.35" y1="525.38" x2="84.85" y2="525.38" stroke="#000" stroke-width="1.0"/>
<text transform="translate(77.85,537.28) scale(1.0,1.04)" class="tk" text-anchor="end">1.5</text>
<line x1="81.35" y1="485.36" x2="84.85" y2="485.36" stroke="#000" stroke-width="1.0"/>
<text transform="translate(77.85,497.26) scale(1.0,1.04)" class="tk" text-anchor="end">2.0</text>
<line x1="81.35" y1="445.34" x2="84.85" y2="445.34" stroke="#000" stroke-width="1.0"/>
<text transform="translate(77.85,457.24) scale(1.0,1.04)" class="tk" text-anchor="end">2.5</text>
<line x1="81.35" y1="405.32" x2="84.85" y2="405.32" stroke="#000" stroke-width="1.0"/>
<text transform="translate(77.85,417.22) scale(1.0,1.04)" class="tk" text-anchor="end">3.0</text>
<line x1="81.35" y1="365.3" x2="84.85" y2="365.3" stroke="#000" stroke-width="1.0"/>
<text transform="translate(77.85,377.2) scale(1.0,1.04)" class="tk" text-anchor="end">3.5</text>
<line x1="84.85" y1="657.45" x2="84.85" y2="660.95" stroke="#000" stroke-width="1.0"/>
<text transform="translate(84.85,688.15) scale(1.0,1.04)" class="tk" text-anchor="middle">0.0</text>
<line x1="181.26" y1="657.45" x2="181.26" y2="660.95" stroke="#000" stroke-width="1.0"/>
<text transform="translate(181.26,688.15) scale(1.0,1.04)" class="tk" text-anchor="middle">0.2</text>
<line x1="277.67" y1="657.45" x2="277.67" y2="660.95" stroke="#000" stroke-width="1.0"/>
<text transform="translate(277.67,688.15) scale(1.0,1.04)" class="tk" text-anchor="middle">0.4</text>
<line x1="374.07" y1="657.45" x2="374.07" y2="660.95" stroke="#000" stroke-width="1.0"/>
<text transform="translate(374.07,688.15) scale(1.0,1.04)" class="tk" text-anchor="middle">0.6</text>
<line x1="470.48" y1="657.45" x2="470.48" y2="660.95" stroke="#000" stroke-width="1.0"/>
<text transform="translate(470.48,688.15) scale(1.0,1.04)" class="tk" text-anchor="middle">0.8</text>
<line x1="566.89" y1="657.45" x2="566.89" y2="660.95" stroke="#000" stroke-width="1.0"/>
<text transform="translate(566.89,688.15) scale(1.0,1.04)" class="tk" text-anchor="middle">1.0</text>
<line x1="663.3" y1="657.45" x2="663.3" y2="660.95" stroke="#000" stroke-width="1.0"/>
<text transform="translate(663.3,688.15) scale(1.0,1.04)" class="tk" text-anchor="middle">1.2</text>
<clipPath id="clipd"><rect x="770.4" y="365.3" width="626.5" height="292.15"/></clipPath>
<path d="M770.4,645.44 L772,645.36 L773.6,645.27 L775.2,645.19 L776.79,645.11 L778.39,645.02 L779.99,644.94 L781.59,644.85 L783.19,644.77 L784.79,644.68 L786.38,644.6 L787.98,644.51 L789.58,644.43 L791.18,644.34 L792.78,644.26 L794.38,644.17 L795.97,644.09 L797.57,644.01 L799.17,643.92 L800.77,643.84 L802.37,643.75 L803.97,643.66 L805.56,643.58 L807.16,643.49 L808.76,643.41 L810.36,643.32 L811.96,643.24 L813.56,643.15 L815.15,643.07 L816.75,642.98 L818.35,642.9 L819.95,642.81 L821.55,642.72 L823.15,642.64 L824.74,642.55 L826.34,642.47 L827.94,642.38 L829.54,642.29 L831.14,642.21 L832.74,642.12 L834.34,642.03 L835.93,641.95 L837.53,641.86 L839.13,641.77 L840.73,641.69 L842.33,641.6 L843.93,641.51 L845.52,641.42 L847.12,641.34 L848.72,641.25 L850.32,641.16 L851.92,641.07 L853.52,640.98 L855.11,640.89 L856.71,640.81 L858.31,640.72 L859.91,640.63 L861.51,640.54 L863.11,640.45 L864.7,640.36 L866.3,640.27 L867.9,640.18 L869.5,640.09 L871.1,640 L872.7,639.91 L874.29,639.82 L875.89,639.73 L877.49,639.64 L879.09,639.55 L880.69,639.45 L882.29,639.36 L883.88,639.27 L885.48,639.18 L887.08,639.09 L888.68,638.99 L890.28,638.9 L891.88,638.81 L893.48,638.71 L895.07,638.62 L896.67,638.53 L898.27,638.43 L899.87,638.34 L901.47,638.24 L903.07,638.15 L904.66,638.05 L906.26,637.96 L907.86,637.86 L909.46,637.77 L911.06,637.67 L912.66,637.57 L914.25,637.48 L915.85,637.38 L917.45,637.28 L919.05,637.18 L920.65,637.08 L922.25,636.99 L923.84,636.89 L925.44,636.79 L927.04,636.69 L928.64,636.59 L930.24,636.49 L931.84,636.39 L933.43,636.28 L935.03,636.18 L936.63,636.08 L938.23,635.98 L939.83,635.88 L941.43,635.77 L943.02,635.67 L944.62,635.57 L946.22,635.46 L947.82,635.36 L949.42,635.25 L951.02,635.14 L952.62,635.04 L954.21,634.93 L955.81,634.82 L957.41,634.72 L959.01,634.61 L960.61,634.5 L962.21,634.39 L963.8,634.28 L965.4,634.17 L967,634.06 L968.6,633.95 L970.2,633.84 L971.8,633.72 L973.39,633.61 L974.99,633.5 L976.59,633.38 L978.19,633.27 L979.79,633.15 L981.39,633.04 L982.98,632.92 L984.58,632.8 L986.18,632.69 L987.78,632.57 L989.38,632.45 L990.98,632.33 L992.57,632.21 L994.17,632.09 L995.77,631.96 L997.37,631.84 L998.97,631.72 L1000.57,631.59 L1002.16,631.47 L1003.76,631.34 L1005.36,631.22 L1006.96,631.09 L1008.56,630.96 L1010.16,630.83 L1011.76,630.7 L1013.35,630.57 L1014.95,630.44 L1016.55,630.31 L1018.15,630.17 L1019.75,630.04 L1021.35,629.9 L1022.94,629.77 L1024.54,629.63 L1026.14,629.49 L1027.74,629.35 L1029.34,629.21 L1030.94,629.07 L1032.53,628.93 L1034.13,628.79 L1035.73,628.64 L1037.33,628.49 L1038.93,628.35 L1040.53,628.2 L1042.12,628.05 L1043.72,627.9 L1045.32,627.75 L1046.92,627.59 L1048.52,627.44 L1050.12,627.28 L1051.71,627.13 L1053.31,626.97 L1054.91,626.81 L1056.51,626.65 L1058.11,626.48 L1059.71,626.32 L1061.3,626.15 L1062.9,625.99 L1064.5,625.82 L1066.1,625.65 L1067.7,625.47 L1069.3,625.3 L1070.9,625.12 L1072.49,624.95 L1074.09,624.77 L1075.69,624.58 L1077.29,624.4 L1078.89,624.22 L1080.49,624.03 L1082.08,623.84 L1083.68,623.65 L1085.28,623.45 L1086.88,623.26 L1088.48,623.06 L1090.08,622.86 L1091.67,622.66 L1093.27,622.45 L1094.87,622.24 L1096.47,622.03 L1098.07,621.82 L1099.67,621.6 L1101.26,621.39 L1102.86,621.16 L1104.46,620.94 L1106.06,620.71 L1107.66,620.48 L1109.26,620.25 L1110.85,620.01 L1112.45,619.77 L1114.05,619.53 L1115.65,619.28 L1117.25,619.03 L1118.85,618.78 L1120.44,618.52 L1122.04,618.26 L1123.64,617.99 L1125.24,617.72 L1126.84,617.45 L1128.44,617.17 L1130.04,616.88 L1131.63,616.59 L1133.23,616.3 L1134.83,616 L1136.43,615.7 L1138.03,615.39 L1139.63,615.07 L1141.22,614.75 L1142.82,614.42 L1144.42,614.09 L1146.02,613.75 L1147.62,613.4 L1149.22,613.05 L1150.81,612.68 L1152.41,612.32 L1154.01,611.94 L1155.61,611.55 L1157.21,611.16 L1158.81,610.76 L1160.4,610.35 L1162,609.92 L1163.6,609.49 L1165.2,609.05 L1166.8,608.6 L1168.4,608.13 L1169.99,607.65 L1171.59,607.16 L1173.19,606.66 L1174.79,606.14 L1176.39,605.61 L1177.99,605.06 L1179.58,604.5 L1181.18,603.91 L1182.78,603.31 L1184.38,602.69 L1185.98,602.05 L1187.58,601.39 L1189.18,600.71 L1190.77,600 L1192.37,599.26 L1193.97,598.5 L1195.57,597.7 L1197.17,596.88 L1198.77,596.02 L1200.36,595.12 L1201.96,594.18 L1203.56,593.2 L1204.13,592.84 L1204.59,592.54 L1205.05,592.25 L1205.16,592.17 L1205.5,591.94 L1205.96,591.64 L1206.42,591.33 L1206.76,591.09 L1206.88,591.01 L1207.34,590.69 L1207.79,590.37 L1208.25,590.04 L1208.36,589.96 L1208.71,589.7 L1209.17,589.36 L1209.62,589.02 L1209.95,588.77 L1210.08,588.67 L1210.54,588.31 L1211,587.95 L1211.46,587.58 L1211.55,587.51 L1211.91,587.21 L1212.37,586.83 L1212.83,586.45 L1213.15,586.17 L1213.29,586.06 L1213.75,585.66 L1214.2,585.25 L1214.66,584.84 L1214.75,584.76 L1215.12,584.42 L1215.58,583.99 L1216.03,583.56 L1216.35,583.26 L1216.49,583.12 L1216.95,582.67 L1217.41,582.21 L1217.87,581.74 L1217.95,581.65 L1218.32,581.26 L1218.78,580.77 L1219.24,580.28 L1219.54,579.94 L1219.7,579.77 L1220.15,579.25 L1220.61,578.73 L1221.07,578.19 L1221.14,578.1 L1221.53,577.64 L1221.99,577.08 L1222.44,576.5 L1222.74,576.12 L1222.9,575.91 L1223.36,575.31 L1223.82,574.7 L1224.28,574.07 L1224.34,573.98 L1224.73,573.42 L1225.19,572.76 L1225.65,572.08 L1225.94,571.65 L1226.11,571.39 L1226.56,570.68 L1227.02,569.95 L1227.48,569.2 L1227.54,569.1 L1227.94,568.43 L1228.4,567.63 L1228.85,566.82 L1229.13,566.31 L1229.31,565.98 L1229.77,565.12 L1230.23,564.23 L1230.68,563.31 L1230.73,563.22 L1231.14,562.37 L1231.6,561.39 L1232.06,560.38 L1232.33,559.77 L1232.52,559.34 L1232.97,558.26 L1233.43,557.15 L1233.89,555.99 L1233.93,555.89 L1234.35,554.79 L1234.81,553.55 L1235.26,552.25 L1235.53,551.48 L1235.72,550.91 L1236.18,549.5 L1236.64,548.04 L1237.09,546.52 L1237.13,546.41 L1237.55,544.92 L1238.01,543.25 L1238.47,541.5 L1238.72,540.48 L1238.93,539.66 L1239.38,537.73 L1239.84,535.69 L1240.3,533.53 L1240.32,533.42 L1240.76,531.26 L1241.21,528.84 L1241.67,526.28 L1241.92,524.81 L1242.13,523.54 L1242.59,520.62 L1243.05,517.48 L1243.5,514.1 L1243.52,513.98 L1243.96,510.46 L1244.42,506.5 L1244.88,502.19 L1245.12,499.76 L1245.34,497.46 L1245.79,492.25 L1246.25,486.47 L1246.71,479.99 L1246.72,479.87 L1247.17,472.68 L1247.62,464.33 L1248.08,454.67 L1248.32,449.13 L1248.54,443.31 L1249,429.69 L1249.46,412.93 L1249.91,391.62" fill="none" stroke="#000" stroke-width="1.7" stroke-dasharray="5.8 2.6" clip-path="url(#clipd)"/>
<path d="M818,637 L821.8,637.5 L825.5,639.1 L829.3,639.7 L832.5,640.7 L835.7,640.2 L840,640.2 L844.3,639.7 L848.6,641.3 L852.9,639.1 L857.2,637.5 L860.4,637 L864.7,639.1 L869,637.5 L872.2,637 L876.5,637 L880.8,635.4 L885.1,635.9 L888.8,639.7 L892.6,639.1 L895.8,637 L900.1,635.4 L904.3,634.3 L907.6,635.4 L911.9,637 L916.1,636.5 L920.4,635.4 L924.7,636.5 L926.9,637 L929.5,632.2 L933.8,635.4 L938.7,632.7 L941.9,634.3 L946.2,632.2 L950.5,631.6 L953.7,635.4 L959.3,633.4 L963.6,634.5 L967.9,635.6 L972.2,634 L976.4,632.9 L980.7,631.8 L985.6,633.4 L989.3,631.3 L992.5,630.2 L997.9,632.4 L1002.2,631.3 L1006.5,629.1 L1010.8,630.7 L1015,631.3 L1018.3,632.9 L1020.9,631.8 L1023.6,627 L1026.8,628.6 L1030.1,627 L1033.3,629.7 L1037.6,629.1 L1040.8,630.7 L1045.1,624.3 L1048.3,627 L1051.5,627.5 L1055.8,621.6 L1059,622.2 L1062.2,625.4 L1065.4,622.7 L1069.2,619.5 L1072.9,620.6 L1076.1,622.2 L1080.4,621.1 L1084.7,621.1 L1089,622.2 L1093.3,618.9 L1096.5,615.7 L1099.7,614.7 L1103,617.9 L1106.7,617.6 L1110.6,620.4 L1113.9,610.8 L1117.3,614.2 L1120.1,615.2 L1124.5,608.4 L1128.8,612.3 L1134.1,617.1 L1138.4,611.8 L1141.2,612.8 L1145.1,609.4 L1148,608.9 L1152.3,610.4 L1155.2,610.8 L1158.5,608.9 L1162.4,608.4 L1166.2,606 L1170,608.9 L1173.9,604.6 L1176.7,600.3 L1179.6,601.7 L1183.5,600.8 L1186.3,598.8 L1191.1,597.9 L1195,596.5 L1197.8,597.9 L1201.7,592.6 L1204.6,584 L1207.4,585.4 L1211.8,575.3 L1215.1,577.7 L1218.9,579.7 L1222.3,573.9 L1226,569.6 L1229.1,574.5 L1232.8,577.6 L1235.9,577.6 L1239.1,582.7 L1242.7,594.8 L1246.3,597.2 L1249.9,593 L1254.2,599 L1259.6,605.6 L1264.4,611.7 L1266.8,612.9 L1271.1,617.1 L1274.1,618.3 L1277.7,623.2 L1280.7,623.2 L1285,627.4 L1289.2,629.8 L1291.6,630.4 L1295.8,633.4 L1301.3,636.4 L1305.5,638.9 L1309.1,637 L1313.4,638.9 L1318.2,640.7 L1322.4,640.1 L1326.6,641.9 L1333.3,641.9 L1335.7,643.1 L1339.9,642.2 L1343,643.7 L1347.2,642.2 L1352,643.7 L1358,643.7 L1362.9,644.3 L1365.3,643.4 L1368.9,644.7 L1375,643.1 L1378.6,644.7 L1385.8,645.5 L1391.9,645.5 L1396.1,645.5" fill="none" stroke="#1f77b4" stroke-width="1.6" stroke-linejoin="round" stroke-linecap="square" clip-path="url(#clipd)"/>
<path d="M818,645 L821.8,640.7 L826.1,638.6 L828.8,638.6 L830.9,642.4 L833.6,637 L836.8,642.9 L839.5,643.4 L842.2,635.4 L847.5,641.8 L850.7,638.6 L854.5,635.9 L857.7,643.4 L860.4,637 L863.6,642.4 L866.8,639.7 L869,640.2 L874.3,636.5 L877.5,638.1 L881.3,637 L884,643.4 L887.2,638.1 L890.4,639.1 L893.1,642.4 L896.8,638.6 L901.1,637 L905.4,635.4 L908.1,636.5 L911.3,631.6 L914.5,632.7 L917.2,628.9 L919.9,640.2 L926.3,631.6 L931.2,635.9 L934.9,638.1 L938.1,631.1 L940.8,641.3 L944,631.1 L947.2,638.1 L950.5,632.7 L954.2,632.2 L958,630 L959.3,629.7 L962.5,630.5 L965.7,627.5 L968.4,627 L971.1,629.7 L974.3,636.1 L977,630.7 L980.2,629.1 L982.9,632.9 L989.3,625.4 L992,634 L997.9,621.1 L1001.1,624.1 L1007,624.1 L1009.7,630.7 L1015.6,627 L1018.8,620.6 L1022.5,628.6 L1025.2,629.1 L1027.9,622.7 L1031.1,625.9 L1033.8,631.8 L1037,618.4 L1040.2,630.2 L1045.1,625.4 L1048.3,625.9 L1051.5,628.1 L1054.7,621.1 L1057.9,625.4 L1061.1,630.7 L1064.4,627.5 L1069.7,627 L1072.9,630.2 L1076.7,623.8 L1081.5,618.9 L1084.7,625.9 L1087.9,626.5 L1090.6,620.6 L1093.3,624.3 L1096.5,620.6 L1099.7,623.2 L1105.3,625.7 L1108.6,620 L1114.4,628.1 L1117.7,617.6 L1120.1,622.4 L1123,615.6 L1129.7,622.8 L1133.1,621.9 L1138.4,614.2 L1141.2,620 L1144.1,620 L1148,615.6 L1150.4,602.7 L1153.2,607 L1156.6,611.3 L1159.5,602.7 L1162.4,612.3 L1165.2,602.2 L1171,608 L1173.9,600.8 L1177.7,600.3 L1180.1,598.4 L1183,604.1 L1186.3,589.3 L1189.2,596 L1195,588.3 L1198.8,593.1 L1201.7,591.7 L1207.4,585.4 L1210.3,574.4 L1213.1,581.3 L1215.5,570.2 L1218.6,565.3 L1222.3,562.8 L1225.4,570.8 L1228.5,555.4 L1231.6,563.4 L1234,548 L1237.1,542.5 L1240.2,543.7 L1243.3,535.7 L1246.3,533.9 L1248.7,570 L1251.1,588.1 L1253.6,600.2 L1255.4,608.7 L1257.8,615.3 L1260.8,620.7 L1263.8,628 L1266.8,633.4 L1272.3,632.8 L1275.9,636.2 L1278.9,635 L1281.9,640.7 L1288,644.3 L1291,638.6 L1294,643.1 L1300.1,638.6 L1303.1,643.1 L1309.1,644.9 L1312.1,642.2 L1319.4,643.1 L1324.2,644.3 L1329.1,643.7 L1332.7,644.9 L1338.7,645.9 L1343.6,644.7 L1349.6,644.9 L1356.8,645.5 L1362.9,645.5 L1366.5,644.3 L1370.1,645.5 L1375,644.9 L1379.8,644.7 L1385.8,645.9 L1391.9,644.7 L1399,645.9" fill="none" stroke="#ff7f0e" stroke-width="1.6" stroke-linejoin="round" stroke-linecap="square" clip-path="url(#clipd)"/>
<rect x="770.4" y="365.3" width="626.5" height="292.15" fill="none" stroke="#000" stroke-width="1.0"/>
<line x1="766.9" y1="645.44" x2="770.4" y2="645.44" stroke="#000" stroke-width="1.0"/>
<text transform="translate(763.4,657.34) scale(1.0,1.04)" class="tk" text-anchor="end">0.0</text>
<line x1="766.9" y1="605.42" x2="770.4" y2="605.42" stroke="#000" stroke-width="1.0"/>
<text transform="translate(763.4,617.32) scale(1.0,1.04)" class="tk" text-anchor="end">0.5</text>
<line x1="766.9" y1="565.4" x2="770.4" y2="565.4" stroke="#000" stroke-width="1.0"/>
<text transform="translate(763.4,577.3) scale(1.0,1.04)" class="tk" text-anchor="end">1.0</text>
<line x1="766.9" y1="525.38" x2="770.4" y2="525.38" stroke="#000" stroke-width="1.0"/>
<text transform="translate(763.4,537.28) scale(1.0,1.04)" class="tk" text-anchor="end">1.5</text>
<line x1="766.9" y1="485.36" x2="770.4" y2="485.36" stroke="#000" stroke-width="1.0"/>
<text transform="translate(763.4,497.26) scale(1.0,1.04)" class="tk" text-anchor="end">2.0</text>
<line x1="766.9" y1="445.34" x2="770.4" y2="445.34" stroke="#000" stroke-width="1.0"/>
<text transform="translate(763.4,457.24) scale(1.0,1.04)" class="tk" text-anchor="end">2.5</text>
<line x1="766.9" y1="405.32" x2="770.4" y2="405.32" stroke="#000" stroke-width="1.0"/>
<text transform="translate(763.4,417.22) scale(1.0,1.04)" class="tk" text-anchor="end">3.0</text>
<line x1="766.9" y1="365.3" x2="770.4" y2="365.3" stroke="#000" stroke-width="1.0"/>
<text transform="translate(763.4,377.2) scale(1.0,1.04)" class="tk" text-anchor="end">3.5</text>
<line x1="770.4" y1="657.45" x2="770.4" y2="660.95" stroke="#000" stroke-width="1.0"/>
<text transform="translate(770.4,688.15) scale(1.0,1.04)" class="tk" text-anchor="middle">0.0</text>
<line x1="866.78" y1="657.45" x2="866.78" y2="660.95" stroke="#000" stroke-width="1.0"/>
<text transform="translate(866.78,688.15) scale(1.0,1.04)" class="tk" text-anchor="middle">0.2</text>
<line x1="963.17" y1="657.45" x2="963.17" y2="660.95" stroke="#000" stroke-width="1.0"/>
<text transform="translate(963.17,688.15) scale(1.0,1.04)" class="tk" text-anchor="middle">0.4</text>
<line x1="1059.55" y1="657.45" x2="1059.55" y2="660.95" stroke="#000" stroke-width="1.0"/>
<text transform="translate(1059.55,688.15) scale(1.0,1.04)" class="tk" text-anchor="middle">0.6</text>
<line x1="1155.94" y1="657.45" x2="1155.94" y2="660.95" stroke="#000" stroke-width="1.0"/>
<text transform="translate(1155.94,688.15) scale(1.0,1.04)" class="tk" text-anchor="middle">0.8</text>
<line x1="1252.32" y1="657.45" x2="1252.32" y2="660.95" stroke="#000" stroke-width="1.0"/>
<text transform="translate(1252.32,688.15) scale(1.0,1.04)" class="tk" text-anchor="middle">1.0</text>
<line x1="1348.71" y1="657.45" x2="1348.71" y2="660.95" stroke="#000" stroke-width="1.0"/>
<text transform="translate(1348.71,688.15) scale(1.0,1.04)" class="tk" text-anchor="middle">1.2</text>
<text id="lbl_a" x="88.5" y="42.4" class="pl">a<tspan dx="1.5" dy="-1.9" font-size="32">)</tspan></text>
<text id="lbl_b" x="777" y="42.2" class="pl">b<tspan dx="1.5" dy="-1.9" font-size="32">)</tspan></text>
<text id="lbl_c" x="89.5" y="396.3" class="pl">c<tspan dx="1.5" dy="-1.9" font-size="32">)</tspan></text>
<text id="lbl_d" x="776.5" y="396.3" class="pl">d<tspan dx="1.5" dy="-1.9" font-size="32">)</tspan></text>
<text x="543" y="42.3" class="pl" textLength="61.6" lengthAdjust="spacingAndGlyphs">Init.</text>
<text x="614.8" y="42.3" class="pl" textLength="92.6" lengthAdjust="spacingAndGlyphs">Cond.</text>
<text id="lbl_rb" x="1335.5" y="40.8" class="pl">4L<tspan font-size="23">n</tspan><tspan font-size="23" dx="1.8">l</tspan></text>
<text id="lbl_rc" x="646" y="396.3" class="pl">5L<tspan font-size="23">n</tspan><tspan font-size="23" dx="1.8">l</tspan></text>
<text id="lbl_rd" x="1335.5" y="394.9" class="pl">8L<tspan font-size="23">n</tspan><tspan font-size="23" dx="1.8">l</tspan></text>
<text transform="translate(25.2,158.43) rotate(-90)" class="lab" text-anchor="middle" textLength="156" lengthAdjust="spacingAndGlyphs">PDF(Im(<tspan font-style="italic" font-weight="normal" font-size="35" stroke="#000" stroke-width="0.7">λ</tspan>))</text>
<text transform="translate(25.2,511.77) rotate(-90)" class="lab" text-anchor="middle" textLength="156" lengthAdjust="spacingAndGlyphs">PDF(Im(<tspan font-style="italic" font-weight="normal" font-size="35" stroke="#000" stroke-width="0.7">λ</tspan>))</text>
<text x="398.18" y="722.6" class="lab" text-anchor="middle" textLength="76" lengthAdjust="spacingAndGlyphs">Im(<tspan font-style="italic" font-weight="normal" font-size="35" stroke="#000" stroke-width="0.7">λ</tspan>)</text>
<text x="1083.65" y="722.6" class="lab" text-anchor="middle" textLength="76" lengthAdjust="spacingAndGlyphs">Im(<tspan font-style="italic" font-weight="normal" font-size="35" stroke="#000" stroke-width="0.7">λ</tspan>)</text>
</svg>
</body></html>
